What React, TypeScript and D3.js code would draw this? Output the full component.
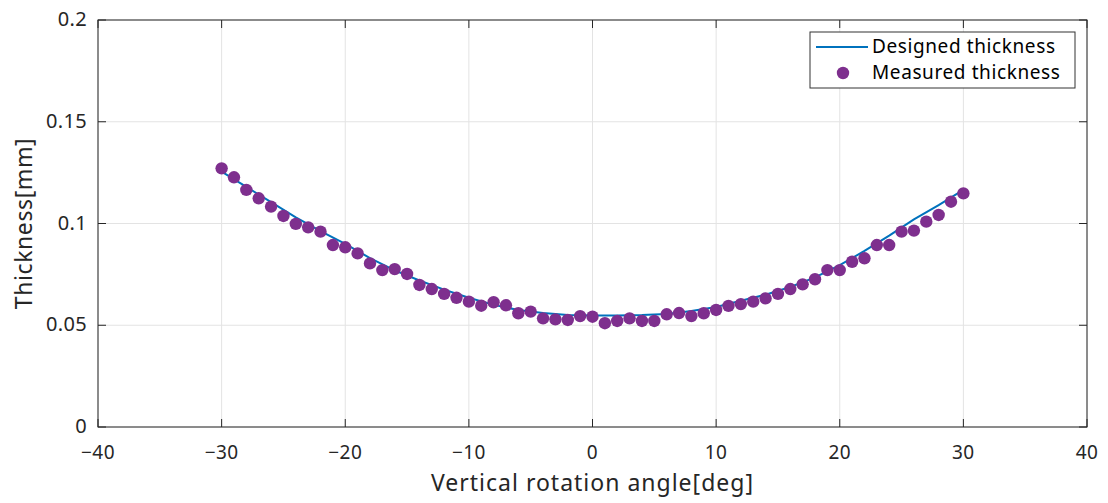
import React from "react";
import * as d3 from "d3";

const measuredAngles: number[] = d3.range(-30, 31);
const measuredValues: number[] = [
  0.1271, 0.1227, 0.1165, 0.1124, 0.1083, 0.1037, 0.0998, 0.0981, 0.0960, 0.0894,
  0.0883, 0.0853, 0.0804, 0.0771, 0.0776, 0.0752, 0.0698, 0.0678, 0.0654, 0.0635,
  0.0616, 0.0596, 0.0613, 0.0598, 0.0559, 0.0567, 0.0534, 0.0529, 0.0526, 0.0545,
  0.0542, 0.0510, 0.0521, 0.0534, 0.0521, 0.0521, 0.0554, 0.0560, 0.0545, 0.0559,
  0.0575, 0.0595, 0.0604, 0.0616, 0.0632, 0.0654, 0.0678, 0.0701, 0.0726, 0.0771,
  0.0771, 0.0812, 0.0829, 0.0894, 0.0894, 0.0960, 0.0965, 0.1009, 0.1042, 0.1107,
  0.1148,
];

const designedAngles: number[] = [-30, -28, -26, -24, -22, -20, -18, -16, -14, -12, -10, -8, -6, -4, -2, 0, 2, 4, 6, 8, 10, 12, 14, 16, 18, 20, 22, 24, 26, 28, 30];
const designedValues: number[] = [
  0.1255, 0.1180, 0.1105, 0.1030, 0.0962, 0.0900, 0.0830, 0.0770, 0.0720, 0.0675,
  0.0635, 0.0600, 0.0575, 0.0560, 0.0550, 0.0548, 0.0548, 0.0550, 0.0555, 0.0570,
  0.0590, 0.0620, 0.0650, 0.0688, 0.0735, 0.0795, 0.0865, 0.0940, 0.1020, 0.1090,
  0.1165,
];

const xTicks: number[] = [-40, -30, -20, -10, 0, 10, 20, 30, 40];
const yTicks: number[] = [0, 0.05, 0.1, 0.15, 0.2];
const yTickLabels: string[] = ["0", "0.05", "0.1", "0.15", "0.2"];
const xLabel = "Vertical rotation angle[deg]";
const yLabel = "Thickness[mm]";
const legendLabels: string[] = ["Designed thickness", "Measured thickness"];

const W = 1108;
const H = 503;
const left = 98;
const right = 1087;
const top = 20;
const bottom = 427;

const FONT = "'Noto Sans', 'Noto Sans CJK JP', sans-serif";
const LINE_COLOR = "#0072BD";
const DOT_COLOR = "#7E2F8E";
const AXIS_COLOR = "#262626";

export default function App() {
  const x = d3.scaleLinear().domain([-40, 40]).range([left, right]);
  const y = d3.scaleLinear().domain([0, 0.2]).range([bottom, top]);
  const line = d3
    .line<number>()
    .x((_, i) => x(designedAngles[i]))
    .y((d) => y(d));
  const fmtX = (v: number) => (v < 0 ? "\u2212" + Math.abs(v) : String(v));
  const tickLen = 8;

  const lgX = 810;
  const lgY = 32;
  const lgW = 265;
  const lgH = 56;

  return (
    <svg
      width={W}
      height={H}
      style={{ position: "absolute", left: 0, top: 0, background: "#fff" }}
      fontFamily={FONT}
    >
      <rect x={0} y={0} width={W} height={H} fill="#fff" />
      {/* grid */}
      {xTicks.map((t) => (
        <line key={"gx" + t} x1={x(t)} x2={x(t)} y1={top} y2={bottom} stroke="#e3e3e3" strokeWidth={1} />
      ))}
      {yTicks.map((t) => (
        <line key={"gy" + t} x1={left} x2={right} y1={y(t)} y2={y(t)} stroke="#e3e3e3" strokeWidth={1} />
      ))}
      {/* data */}
      <path d={line(designedValues) || ""} fill="none" stroke={LINE_COLOR} strokeWidth={2} />
      {measuredValues.map((v, i) => (
        <circle key={"m" + i} cx={x(measuredAngles[i])} cy={y(v)} r={6.2} fill={DOT_COLOR} />
      ))}
      {/* box */}
      <rect x={left} y={top} width={right - left} height={bottom - top} fill="none" stroke={AXIS_COLOR} strokeWidth={1} />
      {/* ticks */}
      {xTicks.map((t) => (
        <g key={"tx" + t}>
          <line x1={x(t)} x2={x(t)} y1={bottom} y2={bottom - tickLen} stroke={AXIS_COLOR} />
          <line x1={x(t)} x2={x(t)} y1={top} y2={top + tickLen} stroke={AXIS_COLOR} />
          <text x={x(t)} y={bottom + 32} textAnchor="middle" fontSize={19} letterSpacing={0.4} fill={AXIS_COLOR}>
            {fmtX(t)}
          </text>
        </g>
      ))}
      {yTicks.map((t, i) => (
        <g key={"ty" + t}>
          <line x1={left} x2={left + tickLen} y1={y(t)} y2={y(t)} stroke={AXIS_COLOR} />
          <line x1={right} x2={right - tickLen} y1={y(t)} y2={y(t)} stroke={AXIS_COLOR} />
          <text x={left - 11} y={y(t) + 6} textAnchor="end" fontSize={20} letterSpacing={0.3} fill={AXIS_COLOR}>
            {yTickLabels[i]}
          </text>
        </g>
      ))}
      {/* axis labels */}
      <text x={(left + right) / 2} y={491} textAnchor="middle" fontSize={23} letterSpacing={1} fill={AXIS_COLOR}>
        {xLabel}
      </text>
      <text
        transform={`translate(32, ${(top + bottom) / 2}) rotate(-90)`}
        textAnchor="middle"
        fontSize={23}
        letterSpacing={0.6}
        fill={AXIS_COLOR}
      >
        {yLabel}
      </text>
      {/* legend */}
      <rect x={lgX} y={lgY} width={lgW} height={lgH} fill="#fff" stroke="#333" strokeWidth={1} />
      <line x1={lgX + 6} x2={lgX + 58} y1={lgY + 15} y2={lgY + 15} stroke={LINE_COLOR} strokeWidth={2} />
      <text x={lgX + 62} y={lgY + 21} fontSize={19} letterSpacing={0.6} fill="#000">
        {legendLabels[0]}
      </text>
      <circle cx={lgX + 33} cy={lgY + 41} r={6.2} fill={DOT_COLOR} />
      <text x={lgX + 62} y={lgY + 47} fontSize={19} letterSpacing={0.6} fill="#000">
        {legendLabels[1]}
      </text>
    </svg>
  );
}
